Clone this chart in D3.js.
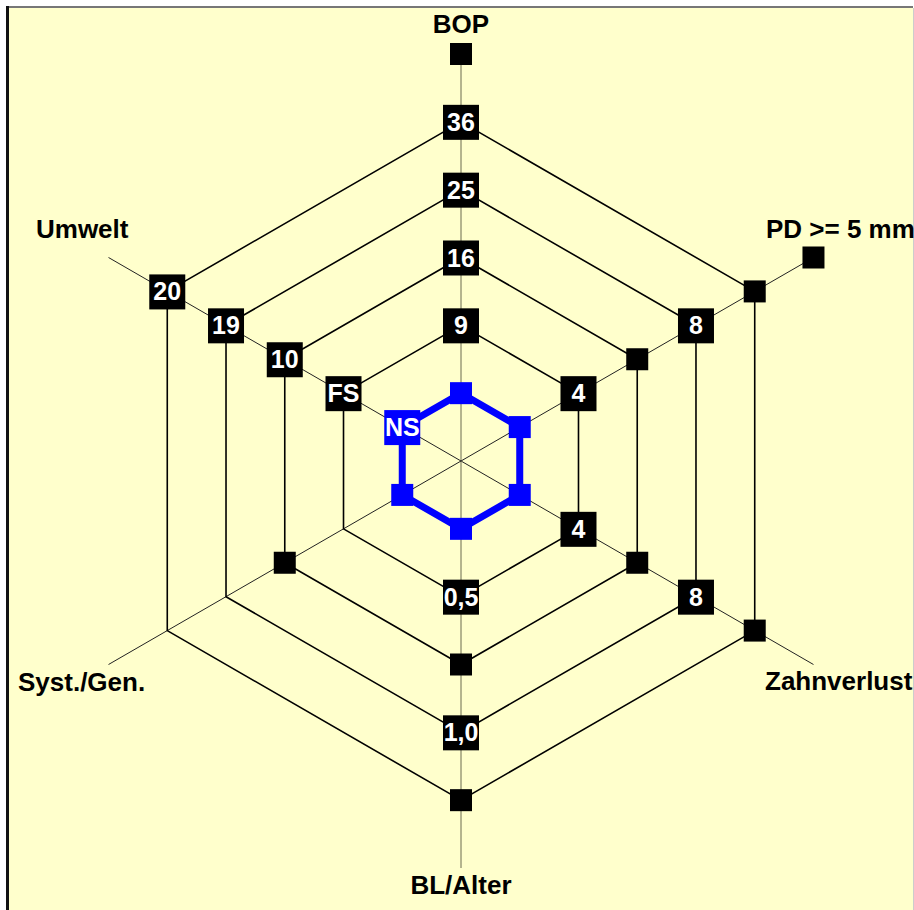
<!doctype html>
<html lang="de">
<head>
<meta charset="utf-8">
<title>Risikodiagramm</title>
<script src="https://cdnjs.cloudflare.com/ajax/libs/d3/7.8.5/d3.min.js"></script>
<style>
  body { margin: 0; background: #fff; }
  svg { display: block; font-family: "Liberation Sans", Arial, sans-serif; font-weight: bold; }
</style>
</head>
<body>
<div id="chart"></div>
<script>
// categories (clockwise from top)
var axes = ["BOP", "PD >= 5 mm", "Zahnverlust", "BL/Alter", "Syst./Gen.", "Umwelt"];

// patient series: every parameter in the lowest class
var seriesNS = [1, 1, 1, 1, 1, 1];
var seriesName = "NS";

// grid rings and the tick labels along each axis (levels 2..6)
// "" = plain marker, null = nothing
var gridLevels = [2, 3, 4, 5];
var tickLevels = [2, 3, 4, 5, 6];
var tickBOP    = ["9", "16", "25", "36", ""];
var tickPD     = ["4", "", "8", "", ""];
var tickZahn   = ["4", "", "8", "", null];
var tickBL     = ["0,5", "", "1,0", "", null];
var tickSyst   = [null, "", null, null, null];
var tickUmwelt = ["FS", "10", "19", "20", null];
var ticks = [tickBOP, tickPD, tickZahn, tickBL, tickSyst, tickUmwelt];

var w = 914, h = 910, cx = 461, cy = 461;

var r = d3.scaleLinear().domain([0, 6]).range([0, 407]);
var ang = d3.scalePoint().domain(axes).range([0, 300]);   // degrees, 0 = up

function pt(axis, v) {
  var a = ang(axis) * Math.PI / 180;
  return [cx + r(v) * Math.sin(a), cy - r(v) * Math.cos(a)];
}

var svg = d3.select("#chart").append("svg")
    .attr("width", w)
    .attr("height", h);

// frame
svg.append("rect").attr("x", 7).attr("y", 8).attr("width", 906).attr("height", 910)
    .attr("fill", "#ffffcc");
svg.append("line").attr("x1", 6).attr("x2", 913).attr("y1", 7).attr("y2", 7)
    .attr("stroke", "#777").attr("stroke-width", 2);
svg.append("line").attr("x1", 7.5).attr("x2", 7.5).attr("y1", 6).attr("y2", 910)
    .attr("stroke", "#111").attr("stroke-width", 3);
svg.append("line").attr("x1", 913.5).attr("x2", 913.5).attr("y1", 8).attr("y2", 910)
    .attr("stroke", "#ccc").attr("stroke-width", 1);

// axis spokes
svg.selectAll("line.spoke").data(axes).enter().append("line")
    .attr("class", "spoke")
    .attr("x1", cx).attr("y1", cy)
    .attr("x2", function(d) { return pt(d, 6)[0]; })
    .attr("y2", function(d) { return pt(d, 6)[1]; })
    .attr("stroke", function(d, i) { return i % 3 === 0 ? "#6b6b50" : "#222"; })
    .attr("stroke-width", 1);

// hexagon rings
var ring = d3.line();
svg.selectAll("path.ring").data(gridLevels).enter().append("path")
    .attr("class", "ring")
    .attr("d", function(lv) { return ring(axes.map(function(a) { return pt(a, lv); })) + "Z"; })
    .attr("fill", "none")
    .attr("stroke", "#000")
    .attr("stroke-width", 1.6);

// tick markers / labels
var tickData = [];
axes.forEach(function(a, i) {
  ticks[i].forEach(function(t, j) {
    if (t !== null) tickData.push({ axis: a, level: tickLevels[j], text: t });
  });
});

var tg = svg.selectAll("g.tick").data(tickData).enter().append("g")
    .attr("class", "tick")
    .attr("transform", function(d) { var p = pt(d.axis, d.level); return "translate(" + p[0] + "," + p[1] + ")"; });

tg.append("rect")
    .attr("x", function(d) { return d.text ? -18 : -11; })
    .attr("y", function(d) { return d.text ? -17 : -11; })
    .attr("width", function(d) { return d.text ? 36 : 22; })
    .attr("height", function(d) { return d.text ? 35 : 22; })
    .attr("fill", "#000");

tg.filter(function(d) { return d.text; }).append("text")
    .attr("text-anchor", "middle")
    .attr("y", 9)
    .attr("fill", "#fff")
    .style("font-size", "25px")
    .text(function(d) { return d.text; });

// series polygon
var sPts = axes.map(function(a, i) { return pt(a, seriesNS[i]); });
svg.append("path")
    .attr("d", ring(sPts) + "Z")
    .attr("fill", "none")
    .attr("stroke", "#0000ff")
    .attr("stroke-width", 7)
    .attr("stroke-linejoin", "round");

var sg = svg.selectAll("g.pt").data(axes).enter().append("g")
    .attr("class", "pt")
    .attr("transform", function(d, i) { var p = pt(d, seriesNS[i]); return "translate(" + p[0] + "," + p[1] + ")"; });

sg.append("rect")
    .attr("x", function(d, i) { return i === 5 ? -18 : -11; })
    .attr("y", function(d, i) { return i === 5 ? -17 : -11; })
    .attr("width", function(d, i) { return i === 5 ? 36 : 22; })
    .attr("height", function(d, i) { return i === 5 ? 35 : 22; })
    .attr("fill", "#0000ff");

sg.filter(function(d, i) { return i === 5; }).append("text")
    .attr("text-anchor", "middle")
    .attr("y", 9)
    .attr("fill", "#fff")
    .style("font-size", "25px")
    .text(seriesName);

// category labels
var labelPos = {
  "BOP":         [461, 33, "middle"],
  "PD >= 5 mm":  [766, 238, "start"],
  "Zahnverlust": [765, 690, "start"],
  "BL/Alter":    [461, 894, "middle"],
  "Syst./Gen.":  [18, 691, "start"],
  "Umwelt":      [36, 238, "start"]
};
svg.selectAll("text.cat").data(axes).enter().append("text")
    .attr("class", "cat")
    .attr("x", function(d) { return labelPos[d][0]; })
    .attr("y", function(d) { return labelPos[d][1]; })
    .attr("text-anchor", function(d) { return labelPos[d][2]; })
    .attr("fill", "#000")
    .style("font-size", "26px")
    .text(function(d) { return d; });
</script>
</body>
</html>
